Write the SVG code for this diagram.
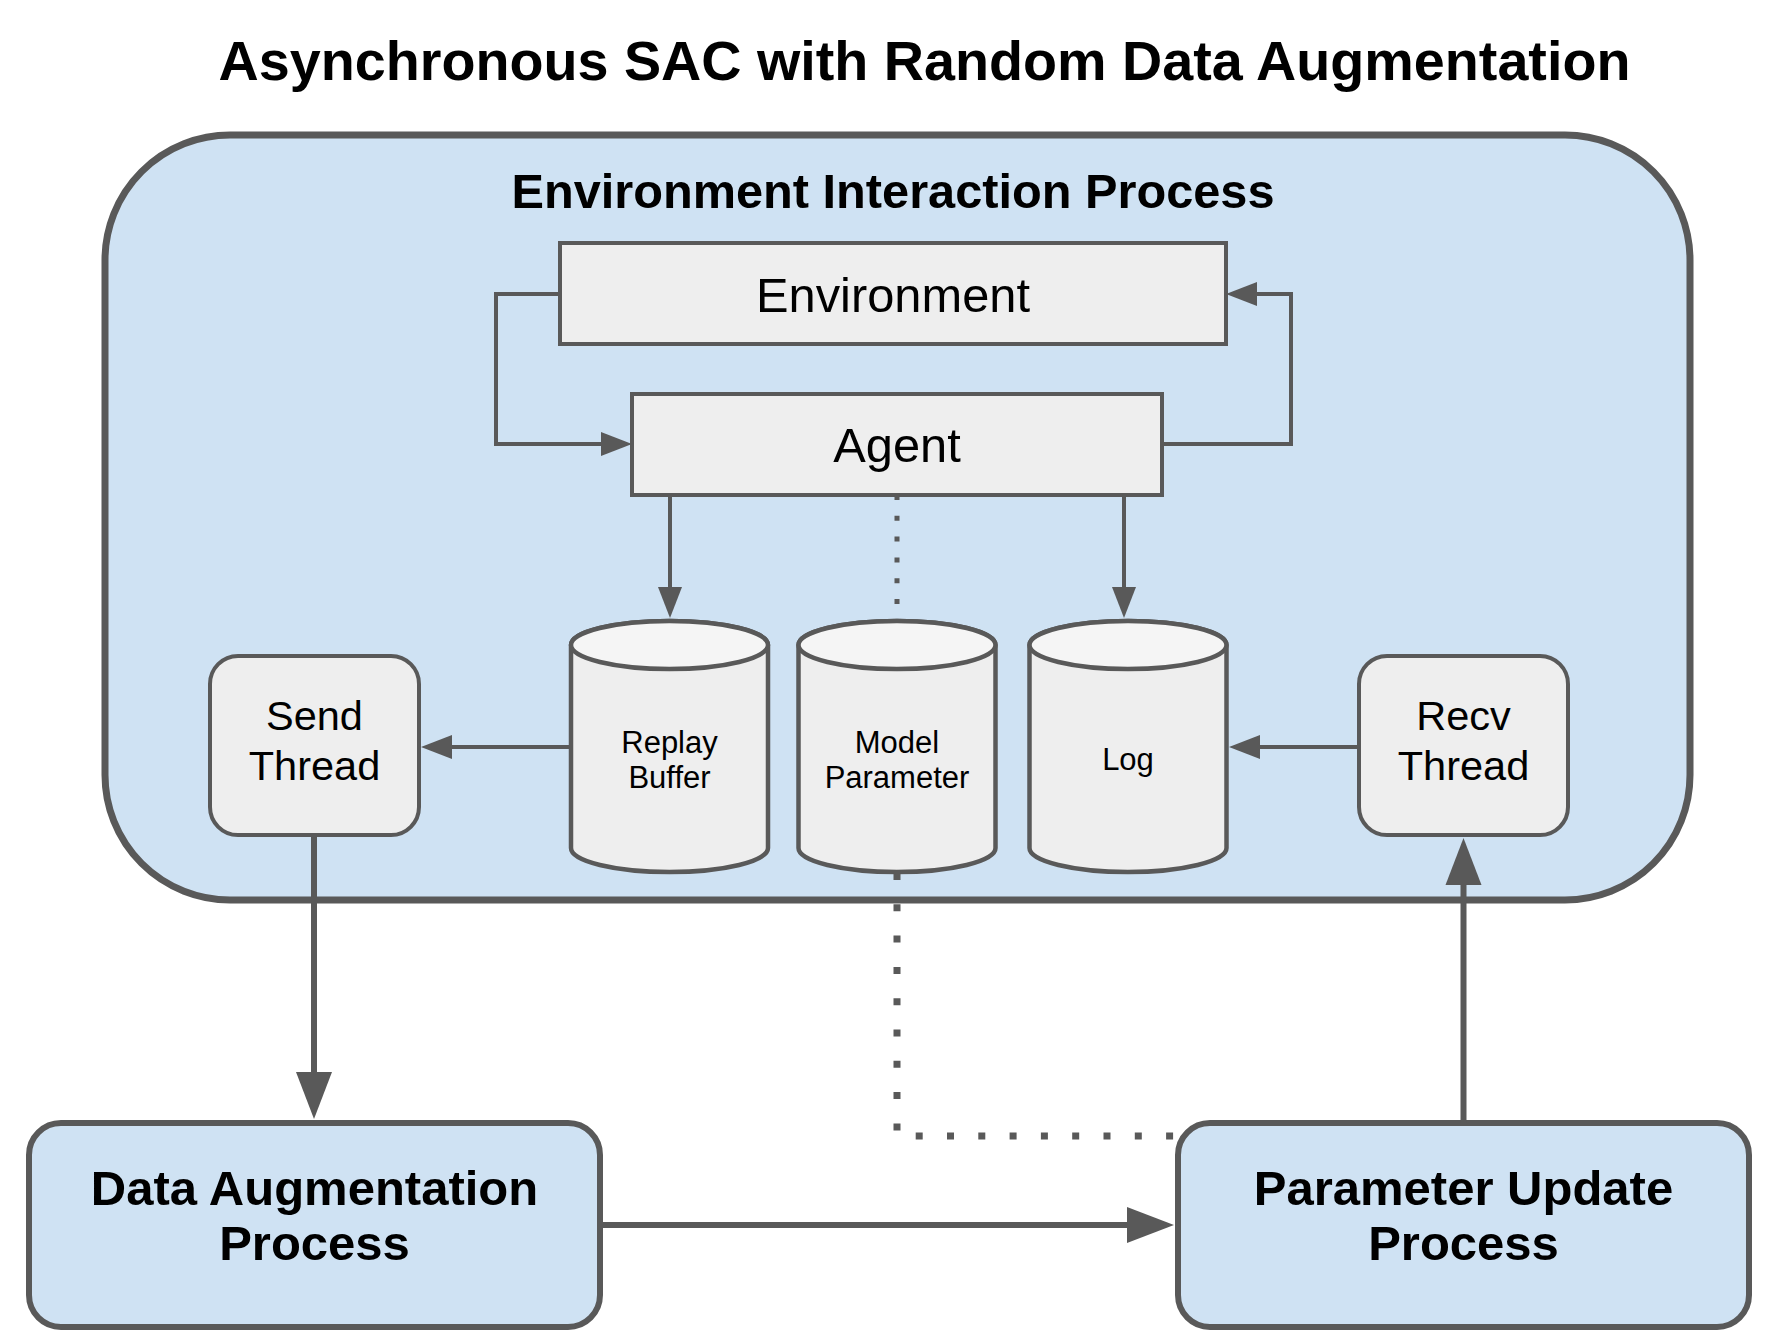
<svg xmlns="http://www.w3.org/2000/svg" width="1778" height="1344" viewBox="0 0 1778 1344">
  <style>
    text { font-family: "Liberation Sans", Arial, sans-serif; fill: #000000; text-anchor: middle; }
    .title { font-size: 55.7px; font-weight: bold; }
    .ptitle { font-size: 48.7px; font-weight: bold; }
    .pbox { font-size: 49px; font-weight: bold; }
    .big { font-size: 48.8px; }
    .mid { font-size: 41.5px; }
    .small { font-size: 31px; }
    .box { fill: #eeeeee; stroke: #595959; stroke-width: 4; }
    .proc { fill: #cfe2f3; stroke: #595959; stroke-width: 6; }
    .cylbody { fill: #eeeeee; stroke: #595959; stroke-width: 4.5; }
    .cyltop { fill: #f5f5f5; stroke: #595959; stroke-width: 4.5; }
    .thin { fill: none; stroke: #595959; stroke-width: 4; marker-end: url(#arrowS); }
    .thick { fill: none; stroke: #595959; stroke-width: 6; marker-end: url(#arrowL); }
    .dotS { fill: none; stroke: #595959; stroke-width: 5; stroke-dasharray: 5 15.8; }
    .dotL { fill: none; stroke: #595959; stroke-width: 7; stroke-dasharray: 7 24.3; }
  </style>
  <defs>
    <marker id="arrowS" markerUnits="userSpaceOnUse" markerWidth="32" markerHeight="26" refX="0" refY="12" orient="auto" overflow="visible">
      <path d="M0,0 L31,12 L0,24 Z" fill="#595959"/>
    </marker>
    <marker id="arrowL" markerUnits="userSpaceOnUse" markerWidth="48" markerHeight="38" refX="0" refY="18" orient="auto" overflow="visible">
      <path d="M0,0 L47,18 L0,36 Z" fill="#595959"/>
    </marker>
  </defs>

  <text class="title" x="924.5" y="80">Asynchronous SAC with Random Data Augmentation</text>

  <g id="env-interaction-process">
    <rect x="105" y="135" width="1585" height="765" rx="125" ry="125" fill="#cfe2f3" stroke="#595959" stroke-width="7"/>
    <text class="ptitle" x="893" y="208">Environment Interaction Process</text>
  </g>

  <g id="environment">
    <rect class="box" x="560" y="243" width="666" height="101"/>
    <text class="big" x="893" y="312">Environment</text>
  </g>

  <g id="agent">
    <rect class="box" x="632" y="394" width="530" height="101"/>
    <text class="big" x="897" y="462">Agent</text>
  </g>

  <g id="replay-buffer">
    <path class="cylbody" d="M571,645 A98.5,24 0 0 1 768,645 V848 A98.5,24 0 0 1 571,848 Z"/>
    <ellipse class="cyltop" cx="669.5" cy="645" rx="98.5" ry="24"/>
    <text class="small" x="669.5" y="753">Replay</text>
    <text class="small" x="669.5" y="788">Buffer</text>
  </g>

  <g id="model-parameter">
    <path class="cylbody" d="M798.5,645 A98.5,24 0 0 1 995.5,645 V848 A98.5,24 0 0 1 798.5,848 Z"/>
    <ellipse class="cyltop" cx="897" cy="645" rx="98.5" ry="24"/>
    <text class="small" x="897" y="753">Model</text>
    <text class="small" x="897" y="788">Parameter</text>
  </g>

  <g id="log">
    <path class="cylbody" d="M1029.5,645 A98.5,24 0 0 1 1226.5,645 V848 A98.5,24 0 0 1 1029.5,848 Z"/>
    <ellipse class="cyltop" cx="1128" cy="645" rx="98.5" ry="24"/>
    <text class="small" x="1128" y="770">Log</text>
  </g>

  <g id="send-thread">
    <rect class="box" x="210" y="656" width="209" height="179" rx="28" ry="28"/>
    <text class="mid" x="314.5" y="730">Send</text>
    <text class="mid" x="314.5" y="780">Thread</text>
  </g>

  <g id="recv-thread">
    <rect class="box" x="1359" y="656" width="209" height="179" rx="28" ry="28"/>
    <text class="mid" x="1463.5" y="730">Recv</text>
    <text class="mid" x="1463.5" y="780">Thread</text>
  </g>

  <g id="data-augmentation-process">
    <rect class="proc" x="29" y="1123" width="571" height="204" rx="32" ry="32"/>
    <text class="pbox" x="314.5" y="1205">Data Augmentation</text>
    <text class="pbox" x="314.5" y="1260">Process</text>
  </g>

  <g id="parameter-update-process">
    <rect class="proc" x="1178" y="1123" width="571" height="204" rx="32" ry="32"/>
    <text class="pbox" x="1463.5" y="1205">Parameter Update</text>
    <text class="pbox" x="1463.5" y="1260">Process</text>
  </g>

  <g id="connectors">
    <path class="thin" d="M560,294 H496 V444 H601"/>
    <path class="thin" d="M1162,444 H1291 V294 H1257"/>
    <path class="thin" d="M670,495 V587"/>
    <path class="thin" d="M1124,495 V587"/>
    <path class="dotS" d="M897,495 V618"/>
    <path class="thin" d="M571,747 H452"/>
    <path class="thin" d="M1359,747 H1260"/>
    <path class="thick" d="M314,835 V1072"/>
    <path class="thick" d="M600,1225 H1127"/>
    <path class="thick" d="M1463.5,1123 V885"/>
    <path class="dotL" d="M897,873 V1136 H1178"/>
  </g>
</svg>
